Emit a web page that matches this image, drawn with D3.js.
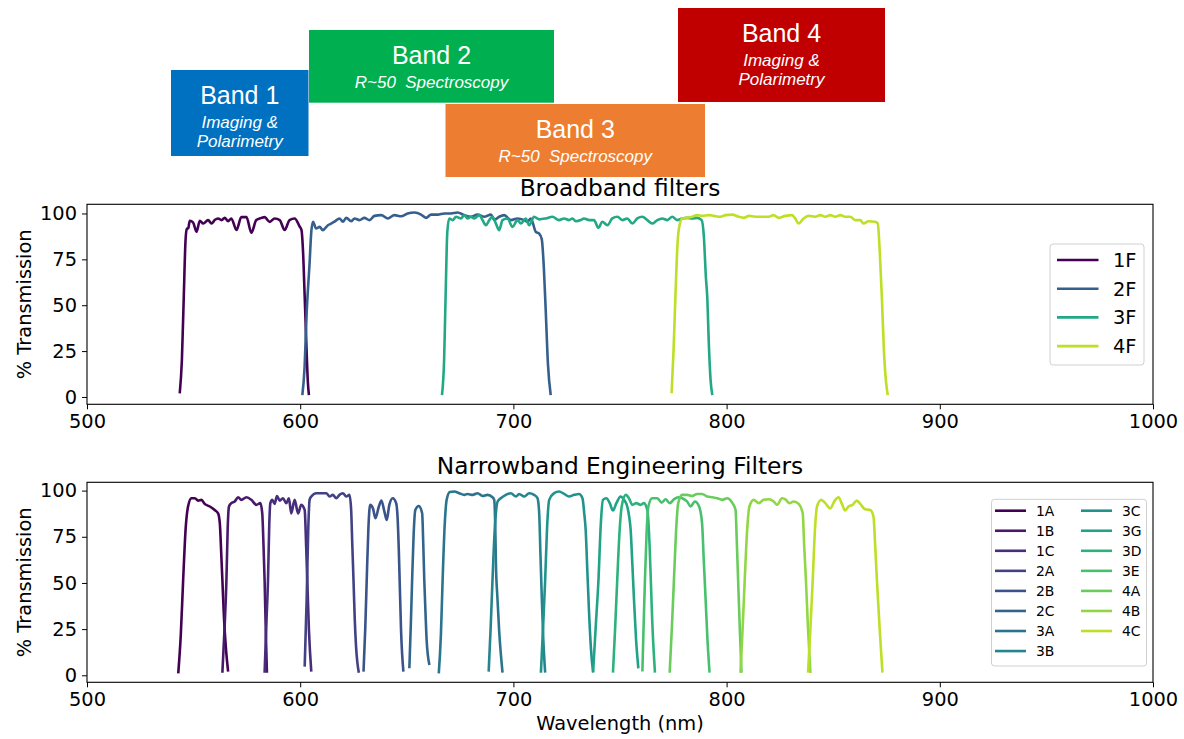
<!DOCTYPE html>
<html>
<head>
<meta charset="utf-8">
<script src="https://cdn.jsdelivr.net/npm/d3@7"></script>
<style>
  html, body { margin: 0; padding: 0; background: #fff; }
  svg { display: block; }
  text { font-family: "DejaVu Sans", sans-serif; }
</style>
</head>
<body>
<svg id="chart" width="1184" height="739"></svg>
<script>
// ---------------- DATA ----------------
const bands = ["Band 1", "Band 2", "Band 3", "Band 4"];
const bandSubtitles = [["Imaging &", "Polarimetry"], ["R~50  Spectroscopy"], ["R~50  Spectroscopy"], ["Imaging &", "Polarimetry"]];

const xTicks = [500, 600, 700, 800, 900, 1000];
const yTicks = [0, 25, 50, 75, 100];

const broadNames = ["1F", "2F", "3F", "4F"];
const f1F = [[543.5,2],[544.5,20],[545.4,55],[546.2,85],[546.8,91.5],[547.5,92],[548.2,96],[549.8,95],[551.4,90],[552.9,96],[554.5,94.5],[556.8,96.4],[558.4,94.5],[559.9,96.4],[561.5,97.3],[563.1,96.4],[564.6,97.6],[566.2,95.8],[567.7,97.3],[570.1,91],[572.4,98],[574.8,98],[577.1,89.5],[579.4,96.4],[581.8,97.6],[583.3,98],[585.7,95.4],[588,97.3],[590.4,96.4],[592.7,91],[595,96.4],[597.4,97.3],[599.7,93],[600.6,91],[601.3,80],[602.1,55],[603,25],[603.6,8],[604.1,1]];
const f2F = [[601,1],[602,15],[603,45],[604.4,73],[605.2,90],[606,95.5],[607.5,91.8],[609.1,92.7],[610.6,90.9],[613,93.6],[614.5,94.5],[616.1,95.5],[618.4,97.3],[620,95.5],[621.6,97.6],[623.9,95.8],[625.5,97.3],[627.8,96.4],[630.1,97.6],[632.5,96.4],[634.8,98.7],[638,99.1],[641.1,97.3],[644.2,99.1],[647.3,98.5],[650.4,100],[653.6,100.5],[656.7,99.4],[659,97.6],[661.4,99.4],[664.5,99.4],[667.6,100],[670.7,100],[673.8,100.5],[677,99.1],[680.1,98.2],[683.2,99.4],[686.3,98.2],[689.5,99.4],[691,96.4],[693.3,98.2],[695.7,99.1],[698.8,96.4],[701.9,97.3],[705.1,96.4],[706.6,95.5],[708.2,97.3],[710.5,90],[712.1,89],[713.3,86],[714.3,70],[715.2,46],[716.2,18],[717.5,1]];
const f3F = [[666.5,1],[667.5,20],[668.3,60],[669,90],[669.9,97.3],[671.5,96.4],[673.1,98.2],[675.4,97.3],[677,99.1],[678.5,97.3],[680.1,98.2],[681.6,97.3],[684,99.1],[685.5,96.4],[687.1,93.6],[688.7,96.4],[690.2,98.2],[691.8,94.5],[693.3,90.9],[694.9,96.4],[697.2,97.3],[699.6,92.7],[701.9,96.4],[703.5,94.5],[705.8,97.3],[707.4,93.6],[709.7,98.2],[712.1,96.8],[715.2,97.3],[718.3,98.2],[721.4,96.4],[723.8,97.3],[726.1,96.4],[727.7,97.3],[729.2,95.8],[731.6,96.4],[733.1,97.3],[735.5,96.4],[737.8,96.4],[739.9,92.2],[741.7,95.5],[744.1,93.6],[746.4,97.3],[748.8,98.2],[751.1,96.4],[753.4,97.3],[755.8,94.5],[758.1,97.3],[760.5,98.2],[762.8,96.4],[765.1,94.5],[767.5,96.4],[769.8,97.3],[772.2,96.4],[774.5,98.2],[776.8,96.4],[779.2,97.3],[781.5,97.6],[783.9,97.3],[786.2,97.6],[788.3,96.4],[789.3,88],[790.3,65],[790.9,55],[791.7,28],[792.5,9],[793.3,1]];
const f4F = [[774.2,2],[775.1,25],[776,55],[777,84],[778,94],[779.2,97.3],[781.5,97.6],[783.9,98.2],[786.2,99.1],[788.5,98.7],[791.7,99.1],[794,98.7],[797.1,98.2],[799.5,99.1],[802.6,99.4],[805.7,98.2],[808.1,97.6],[810.4,98.7],[813.5,98.2],[816.6,98.2],[819.8,98.2],[822.1,99.1],[824.4,97.6],[827.6,98.7],[830.7,99.1],[832.2,97.3],[833.8,94.5],[836.1,97.3],[838.5,98.7],[841.6,98.2],[843.9,99.1],[846.3,98.2],[848.6,99.1],[851,98.2],[853.3,99.1],[855.6,98.2],[858,98.2],[860.3,96.4],[862.7,96.4],[864.2,94.5],[866.6,95.8],[869.7,95.5],[870.9,94.5],[871.8,80],[872.8,55],[873.8,25],[874.8,8],[875.6,1]];
const broadSeries = [f1F, f2F, f3F, f4F];

const narrowNames = ["1A","1B","1C","2A","2B","2C","3A","3B","3C","3G","3D","3E","4A","4B","4C"];
const n1A = [[542.8,1],[544,22],[545.1,51.6],[546.3,80],[547.4,91.4],[549,95.9],[550.6,95.9],[552.1,94.6],[553.7,95],[555.2,92.8],[557.6,91.4],[559.9,89.5],[561.5,87.7],[562.3,82.3],[563,65],[563.5,51.6],[564.3,30],[565.1,15.5],[566.2,2]];
const n1B = [[563.5,1.4],[564.5,25],[565.4,51.6],[566,80],[566.6,91.4],[567.7,93.2],[569.3,94.1],[570.9,96.4],[572.4,95],[574.8,96.4],[577.1,95],[579.4,92.3],[581.3,93.2],[582.2,87.7],[582.8,70],[583.3,51.6],[583.9,22],[584.4,1.4]];
const n1C = [[583.3,1.4],[584.2,30],[584.9,51.6],[585.5,82],[586,93.2],[586.9,95],[588,92.8],[589.1,97.1],[590.4,94.6],[591.9,95.9],[593.5,93.2],[594.7,95.9],[595.8,87.7],[597.4,95],[599,87.7],[600.5,92.3],[602.1,89.5],[602.8,69.7],[603.5,45],[604.1,24.5],[605.2,2]];
const n2A = [[602.1,4.7],[603,40],[603.8,80],[604.4,95],[605.2,96.8],[607.5,98.6],[609.9,98.6],[612.2,98.6],[613.8,96.8],[615.3,97.7],[616.9,95.9],[618.4,97.7],[620,98.6],[621.6,96.8],[623.1,97.7],[623.9,89.5],[624.4,72],[625,51.6],[625.6,30],[626.2,15.5],[627.5,1.4]];
const n2B = [[629.7,2],[630.5,25],[631.2,51.6],[632,80],[632.8,92.3],[634.1,90.5],[635.3,85],[636.9,91.4],[638.1,94.6],[639.5,88.6],[640.6,84.1],[641.8,92.3],[643.4,95.9],[645,93.2],[645.7,85],[646.2,69.7],[646.8,45],[647.3,24.5],[648.4,2]];
const n2C = [[651.2,3.8],[651.9,28],[652.5,51.6],[653.2,76],[654,89.5],[655.6,91.7],[657.2,87.7],[657.7,72],[658.2,51.6],[658.8,33],[659.3,19.1],[660.6,5.6]];
const n3A = [[665,1],[666,22],[666.8,51.6],[667.8,82],[668.7,95],[670.2,99.2],[672.3,99.5],[674.6,98.6],[677,97.7],[678.5,98.2],[680.9,97.7],[683.2,98.6],[685.5,97.1],[687.9,97.7],[690.2,96.4],[691,95],[691.5,80],[691.8,60.6],[692.5,42],[693.3,24.5],[694.9,1.4]];
const n3B = [[688.4,2],[689.3,25],[690.2,51.6],[691.2,78],[692.6,94.1],[694.1,95.9],[696.5,97.7],[698.8,98.6],[701.2,96.8],[702.7,98.2],[705.1,96.8],[707.4,98.6],[709.7,97.7],[711.3,95.9],[712.1,87.7],[712.7,65],[713.3,42.6],[714,20],[714.9,1.4]];
const n3C = [[712.9,1.4],[714,28],[714.9,51.6],[715.8,80],[716.8,95],[719.1,98.6],[721.4,99.5],[723.8,98.2],[726.1,96.8],[728.5,97.7],[730.8,98.2],[732.4,95.9],[733.2,88],[733.9,78.7],[734.7,56],[735.5,33.6],[736.4,14],[737.4,1.4]];
const n3G = [[737.4,2],[738.7,28],[739.9,51.6],[741,82],[742,95],[743.6,95.9],[745.2,93.2],[746.7,89.2],[748.3,93.2],[750.3,96.8],[751.9,95],[753.4,91.4],[754.3,86],[755,78.7],[755.8,60],[756.5,42.6],[757.5,20],[758.6,3.8]];
const n3D = [[746.7,1.4],[747.7,25],[748.7,51.6],[749.8,78],[750.8,91.4],[752.7,97.7],[754.2,95.9],[755.8,92.3],[757.6,93.2],[759.7,92.3],[761.2,93.2],[762.8,89.5],[763.9,69.7],[764.5,50],[765.1,30],[766.4,1.4]];
const n3E = [[760.5,2],[761.1,28],[761.7,51.6],[762.5,78],[763.3,91.4],[765.1,95.9],[767.5,95.9],[769.5,93.5],[771.4,95.3],[773.3,93.2],[775.3,95.3],[777.3,96.4],[779.2,95.9],[781.5,94.1],[783.1,91.4],[785.1,94.1],[787,91.7],[788.5,82.3],[789.3,62],[790.1,42.6],[791,20],[792,1.4]];
const n4A = [[773.3,1.4],[774.3,25],[775.3,51.6],[776.3,78],[777.3,93.2],[779.2,97.7],[781.5,97.7],[783.9,97.1],[786.2,98.2],[788.5,98.2],[790.9,96.8],[793.2,96.4],[795.6,95.9],[797.9,95],[800.3,95.9],[802.6,93.5],[804.2,89.5],[804.8,72],[805.4,51.6],[806.2,25],[807,1.4]];
const n4B = [[806.5,1.4],[807.5,25],[808.5,51.6],[809.6,78],[810.7,91.4],[812.7,95],[815.1,93.2],[817.4,95],[819.8,95.3],[822.1,94.1],[823.7,92.3],[826,95.9],[827.9,95],[829.4,93.2],[831.5,94.1],[833.8,92.8],[835.7,87.7],[836.4,70],[837.2,51.6],[838.2,25],[839.3,1.4]];
const n4C = [[838.2,1.4],[839.3,25],[840.4,51.6],[841.4,78],[842.4,91.4],[844.4,95],[846.3,93.2],[848.6,90.4],[850.7,94.6],[852.5,96.4],[854.1,92.8],[855.6,89.2],[857.2,91.4],[859.1,92.3],[861.1,94.6],[862.7,92.8],[865,89.9],[867.4,89.5],[868.9,85.9],[869.7,70],[870.5,51.6],[871.8,25],[873.1,1.4]];
const narrowSeries = [n1A,n1B,n1C,n2A,n2B,n2C,n3A,n3B,n3C,n3G,n3D,n3E,n4A,n4B,n4C];

// ---------------- DRAW ----------------
const svg = d3.select("#chart");

// Band boxes
const bandBoxes = [
  {x0: 171, x1: 308.5, y0: 70, y1: 156, color: "#0070C0", ty: 104, sy: [128, 147]},
  {x0: 309, x1: 554, y0: 30, y1: 102.7, color: "#00B050", ty: 63.5, sy: [87.5]},
  {x0: 445.5, x1: 705, y0: 104, y1: 177, color: "#ED7D31", ty: 137.5, sy: [162]},
  {x0: 678, x1: 885, y0: 8, y1: 102, color: "#C00000", ty: 41.5, sy: [66, 84.5]}
];
bandBoxes.forEach((b, i) => {
  const g = svg.append("g");
  g.append("rect").attr("x", b.x0).attr("y", b.y0).attr("width", b.x1 - b.x0).attr("height", b.y1 - b.y0).attr("fill", b.color);
  const cx = (b.x0 + b.x1) / 2;
  g.append("text").attr("x", cx).attr("y", b.ty).attr("text-anchor", "middle")
    .style("font-family", "'Liberation Sans', Arial, sans-serif").style("font-size", "25px").attr("fill", "#fff").text(bands[i]);
  bandSubtitles[i].forEach((s, j) => {
    g.append("text").attr("x", cx).attr("y", b.sy[j]).attr("text-anchor", "middle")
      .style("font-family", "'Liberation Sans', Arial, sans-serif").style("font-size", "17px").style("font-style", "italic")
      .style("white-space", "pre").attr("fill", "#fff").text(s);
  });
});

const x0 = 87, x1 = 1153;
const color = t => d3.interpolateViridis(t);
const FS = 19.4;

function panel(top, bottom, yDomain, names, series, title, legendCfg, showXLabel) {
  const x = d3.scaleLinear().domain([500, 1000]).range([x0, x1]);
  const y = d3.scaleLinear().domain(yDomain).range([bottom, top]);
  const g = svg.append("g");
  const n = series.length;
  const cols = series.map((_, i) => color(0.9 * i / (n - 1)));
  const line = d3.line().x(d => x(d[0])).y(d => y(d[1])).curve(d3.curveMonotoneX);

  const clipId = "clip" + Math.round(top);
  svg.append("clipPath").attr("id", clipId).append("rect").attr("x", x0).attr("y", top).attr("width", x1 - x0).attr("height", bottom - top);

  series.forEach((s, i) => {
    g.append("path").attr("d", line(s)).attr("fill", "none").attr("stroke", cols[i])
      .attr("stroke-width", 2.6).attr("stroke-linejoin", "round").attr("clip-path", `url(#${clipId})`);
  });

  // axes
  const xa = g.append("g").attr("transform", `translate(0,${bottom})`)
    .call(d3.axisBottom(x).tickValues(xTicks).tickSize(5).tickPadding(5).tickFormat(d3.format("d")));
  const ya = g.append("g").attr("transform", `translate(${x0},0)`)
    .call(d3.axisLeft(y).tickValues(yTicks).tickSize(5).tickPadding(5).tickFormat(d3.format("d")));
  [xa, ya].forEach(a => {
    a.select(".domain").remove();
    a.selectAll("line").attr("stroke", "#000").attr("stroke-width", 1);
    a.selectAll("text").style("font-family", "'DejaVu Sans', sans-serif").style("font-size", FS + "px").attr("fill", "#000");
  });
  g.append("rect").attr("x", x0).attr("y", top).attr("width", x1 - x0).attr("height", bottom - top)
    .attr("fill", "none").attr("stroke", "#000").attr("stroke-width", 1.1);

  g.append("text").attr("x", (x0 + x1) / 2).attr("y", top - 8).attr("text-anchor", "middle")
    .style("font-size", "23.3px").text(title);
  g.append("text").attr("transform", `translate(31,${(top + bottom) / 2}) rotate(-90)`).attr("text-anchor", "middle")
    .style("font-size", FS + "px").text("% Transmission");
  if (showXLabel) {
    g.append("text").attr("x", (x0 + x1) / 2).attr("y", bottom + 48).attr("text-anchor", "middle")
      .style("font-size", FS + "px").text("Wavelength (nm)");
  }

  // legend
  const L = legendCfg;
  const lg = g.append("g");
  lg.append("rect").attr("x", L.x).attr("y", L.y).attr("width", L.w).attr("height", L.h).attr("rx", 3)
    .attr("fill", "#fff").attr("fill-opacity", 0.8).attr("stroke", "#d0d0d0").attr("stroke-width", 1);
  names.forEach((nm, i) => {
    const c = Math.floor(i / L.perCol), r = i % L.perCol;
    const lx = L.lineX + c * L.colW, ly = L.rowY + r * L.rowH;
    lg.append("line").attr("x1", lx).attr("x2", lx + L.lineW).attr("y1", ly).attr("y2", ly)
      .attr("stroke", cols[i]).attr("stroke-width", 2.6);
    lg.append("text").attr("x", lx + L.textDx).attr("y", ly).attr("dy", "0.36em")
      .style("font-size", L.fs + "px").text(nm);
  });
}

panel(204.3, 404.3, [-4, 105], broadNames, broadSeries, "Broadband filters",
  {x: 1050, y: 244, w: 94, h: 121, perCol: 4, lineX: 1057, colW: 0, rowY: 260, rowH: 28.7, lineW: 41.5, textDx: 56, fs: FS}, false);
panel(482.3, 682.3, [-3.8, 104.5], narrowNames, narrowSeries, "Narrowband Engineering Filters",
  {x: 991.5, y: 499.3, w: 155, h: 166.7, perCol: 8, lineX: 995, colW: 86, rowY: 510.7, rowH: 20.05, lineW: 31, textDx: 41, fs: 13.9}, true);
</script>
</body>
</html>
